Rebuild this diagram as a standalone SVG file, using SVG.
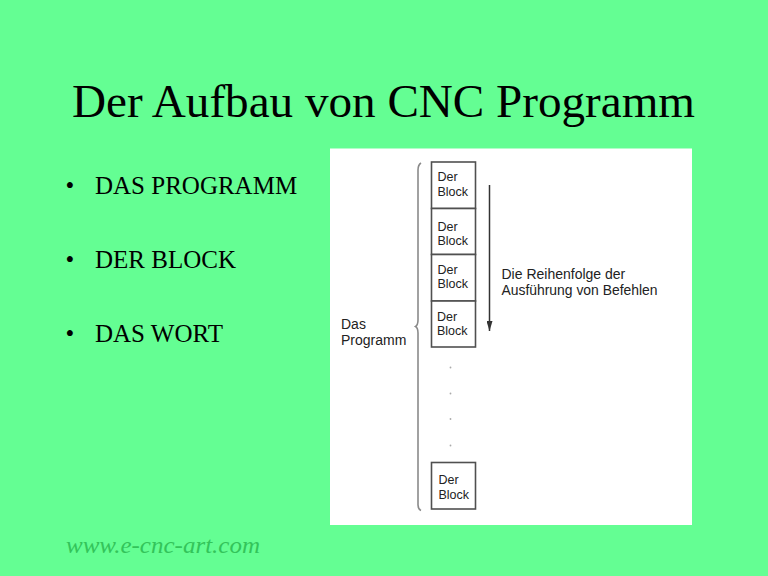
<svg xmlns="http://www.w3.org/2000/svg" width="768" height="576" viewBox="0 0 768 576">
<defs>
<style>
.title{font-family:"Liberation Serif","Times New Roman",serif;font-size:45.5px;fill:#000}
.bul{font-family:"Liberation Serif","Times New Roman",serif;font-size:25px;fill:#000}
.foot{font-family:"Liberation Serif","Times New Roman",serif;font-size:24px;font-style:italic;fill:#33c45a}
.blk{fill:#fff;stroke:#505050;stroke-width:1.6}
.bt{font-family:"Liberation Sans",Arial,sans-serif;font-size:12.5px;fill:#222}
.lt{font-family:"Liberation Sans",Arial,sans-serif;font-size:14px;fill:#222}
.dot{fill:#aaa}
</style>
<marker id="ah" markerWidth="10" markerHeight="6" refX="10" refY="3" orient="auto" markerUnits="userSpaceOnUse" viewBox="0 0 10 6">
<path d="M0,0 L10,3 L0,6 Z" fill="#333"/>
</marker>
</defs>
<rect x="0" y="0" width="768" height="576" fill="#64fe93"/>
<text class="title" x="72" y="117" textLength="623" lengthAdjust="spacingAndGlyphs">Der Aufbau von CNC Programm</text>
<g id="bullets">
<text class="bul" x="65.5" y="194">•</text>
<text class="bul" x="95" y="194">DAS PROGRAMM</text>
<text class="bul" x="65.5" y="268">•</text>
<text class="bul" x="95" y="268">DER BLOCK</text>
<text class="bul" x="65.5" y="341.5">•</text>
<text class="bul" x="95" y="341.5">DAS WORT</text>
</g>
<text class="foot" x="66" y="553" textLength="194" lengthAdjust="spacingAndGlyphs">www.e-cnc-art.com</text>
<rect id="panel" x="330" y="148.5" width="362" height="376.5" fill="#fff"/>
<g id="program-label">
<text class="lt" x="341" y="328.5">Das</text>
<text class="lt" x="341" y="345">Programm</text>
</g>
<g id="block1"><rect class="blk" x="431.5" y="162" width="44" height="46.5"/><text class="bt" x="437.5" y="181">Der</text><text class="bt" x="437.5" y="195.5">Block</text></g>
<g id="block2"><rect class="blk" x="431.5" y="208.5" width="44" height="46"/><text class="bt" x="437.5" y="230.5">Der</text><text class="bt" x="437.5" y="244.5">Block</text></g>
<g id="block3"><rect class="blk" x="431.5" y="254.5" width="44" height="46.5"/><text class="bt" x="437.5" y="274">Der</text><text class="bt" x="437.5" y="288">Block</text></g>
<g id="block4"><rect class="blk" x="431.5" y="301" width="44" height="46"/><text class="bt" x="437" y="320.5">Der</text><text class="bt" x="437" y="335">Block</text></g>
<g id="dots">
<circle class="dot" cx="450.5" cy="367.5" r="0.9"/>
<circle class="dot" cx="450.5" cy="393.5" r="0.9"/>
<circle class="dot" cx="450.5" cy="419" r="0.9"/>
<circle class="dot" cx="450.5" cy="445.5" r="0.9"/>
</g>
<g id="block-last"><rect class="blk" x="431.5" y="462.5" width="44" height="46.5"/><text class="bt" x="438.5" y="484">Der</text><text class="bt" x="438.5" y="498.5">Block</text></g>
<g id="order-label">
<text class="lt" x="501.5" y="278.5">Die Reihenfolge der</text>
<text class="lt" x="501.5" y="295" textLength="156" lengthAdjust="spacingAndGlyphs">Ausführung von Befehlen</text>
</g>
<g id="connectors">
<path d="M421,163 Q418,165 418,170 L418,320 Q418,325 415.5,326.5 Q418,328 418,333 L418,505 Q418,509 421,510.5" fill="none" stroke="#8a8a8a" stroke-width="1.6"/>
<line x1="489.5" y1="185" x2="489.5" y2="331" stroke="#333" stroke-width="1.5" marker-end="url(#ah)"/>
</g>
</svg>
